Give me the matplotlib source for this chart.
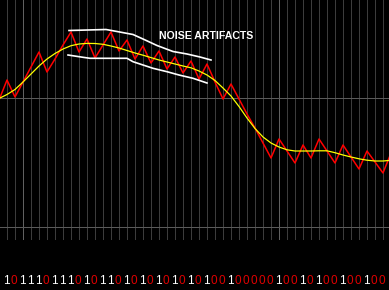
import matplotlib
matplotlib.use("Agg")
import matplotlib.pyplot as plt
import numpy as np

# ---- data (bar index -> level) ----
red_values = [100, 120, 103, 118, 133, 148, 128, 141, 155, 168,
              148, 161, 142, 155, 168, 149, 160, 141, 154, 137,
              149, 131, 143, 127, 139, 121, 136, 118, 101, 116,
              101, 86, 72, 57, 42, 61, 49, 37, 55, 42,
              61, 49, 37, 55, 43, 31, 49, 38, 27, 47]

yellow_values = [101.5, 105.5, 110.5, 118, 126, 134, 141, 146.5, 151, 154.3,
                 156, 156.6, 156.5, 155.7, 154, 152, 149.5, 147, 144.8, 142.4,
                 140, 138, 136, 134, 132.2, 129, 125, 119.5, 112, 104,
                 93.5, 82, 71.5, 63, 57, 53, 50.2, 49, 49, 49,
                 49.2, 49.2, 47.3, 45, 43, 41.2, 39.8, 39, 39, 39.7]

bits = "101110111010110101010101010010000010010100100100"

upper_band_x = [8.75, 13.375, 14.75, 16.75, 18, 19.75, 21.75, 23.5, 25.125, 26.5]
upper_band_y = [169.5, 170.5, 168.5, 165.5, 161, 154.5, 148.5, 146, 143, 140]
lower_band_x = [8.625, 10.5, 11.375, 16, 16.75, 18, 19.25, 21, 22.5, 24.25, 26]
lower_band_y = [145, 142.7, 141.7, 141.7, 138.3, 135, 131.7, 128.3, 125, 121.7, 117]

label_text = "NOISE ARTIFACTS"

# ---- figure ----
fig = plt.figure(figsize=(3.89, 2.90), dpi=100, facecolor="black")
ax = fig.add_axes([0, 0, 1, 1], facecolor="black")
ax.set_xlim(0.125, 48.75)
ax.set_ylim(-90, 200)
ax.axis("off")

# grid
grid_x = np.arange(1, 49)
bright = {3, 35}
for gx in grid_x:
    c = "#606060" if gx in bright else "#3c3c3c"
    ax.plot([gx, gx], [200, -39], color=c, lw=0.6, antialiased=False, zorder=1)
ax.axhline(102, color="#5a5a5a", lw=0.6, antialiased=False, zorder=1)
ax.axhline(-27, color="#5a5a5a", lw=0.6, antialiased=False, zorder=1)

idx = np.arange(len(red_values))
ax.plot(idx, red_values, color="#ff0000", lw=1.1, zorder=3)
ax.plot(idx, yellow_values, color="#ffff00", lw=0.9, zorder=4)

ax.plot(upper_band_x, upper_band_y, color="white", lw=1.2, zorder=5)
ax.plot(lower_band_x, lower_band_y, color="white", lw=1.2, zorder=5)

ax.text(20, 164, label_text, color="white", fontsize=7.6, fontweight="bold",
        family="Liberation Sans", ha="left", va="center", zorder=6)

for k, b in enumerate(bits):
    ax.text(k + 0.88, -81, b, color="white" if b == "1" else "#e00000",
            fontsize=8.5, family="Liberation Sans", ha="center", va="center")

fig.savefig("out.png", dpi=100, facecolor="black")
